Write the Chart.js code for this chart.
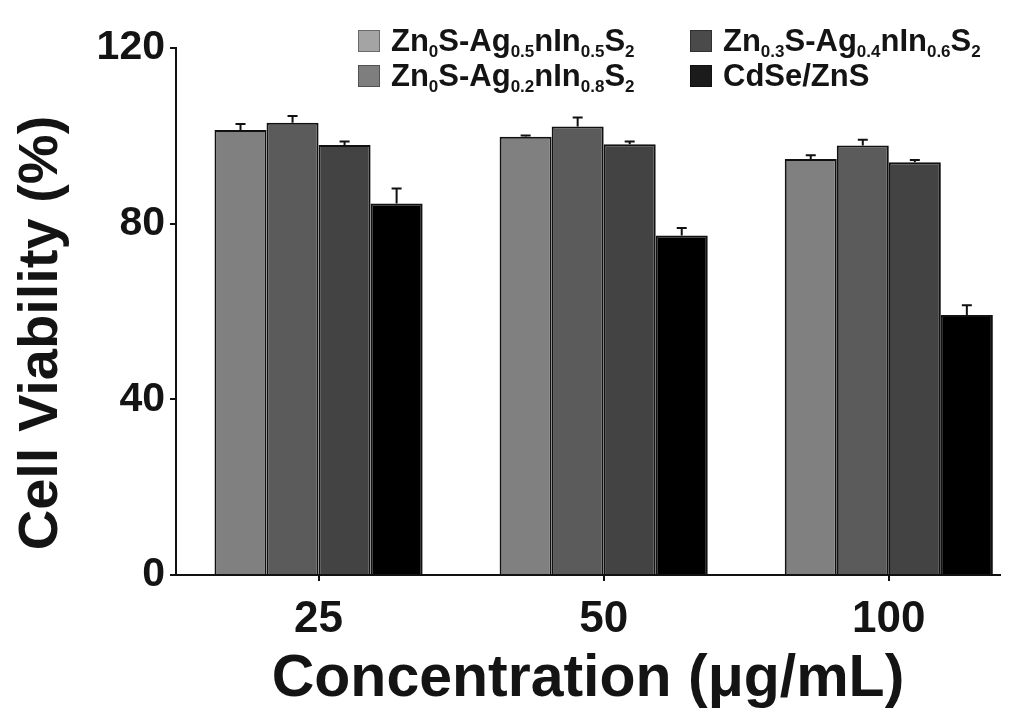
<!DOCTYPE html>
<html>
<head>
<meta charset="utf-8">
<script src="https://cdn.jsdelivr.net/npm/chart.js@4"></script>
<style>
  html, body { margin: 0; padding: 0; background: #fff; }
  #wrap { width: 1025px; height: 710px; }
</style>
</head>
<body>
<div id="wrap"><canvas id="c" width="1025" height="710"></canvas></div>
<script>
// Concentrations tested (µg/mL)
const concentrations = ['25', '50', '100'];

// Sample names; _{...} marks subscript text
const seriesNames = [
  'Zn_{0}S-Ag_{0.5}nIn_{0.5}S_{2}',
  'Zn_{0}S-Ag_{0.2}nIn_{0.8}S_{2}',
  'Zn_{0.3}S-Ag_{0.4}nIn_{0.6}S_{2}',
  'CdSe/ZnS'
];

// Mean cell viability (%) per concentration
const viabilityAg05 = [101.3, 99.8, 94.7];
const viabilityAg02 = [103.0, 102.1, 97.8];
const viabilityZn03 = [97.9, 98.1, 94.0];
const viabilityCdSe = [84.6, 77.3, 59.2];

// Standard deviation (%) per concentration
const errorAg05 = [1.4, 0.3, 0.9];
const errorAg02 = [1.5, 2.1, 1.3];
const errorZn03 = [0.8, 0.6, 0.5];
const errorCdSe = [3.4, 1.7, 2.2];

const yTicks = [0, 40, 80, 120];

const seriesValues = [viabilityAg05, viabilityAg02, viabilityZn03, viabilityCdSe];
const seriesErrors = [errorAg05, errorAg02, errorZn03, errorCdSe];

// Styling
const FONT = "'Liberation Sans', Arial, Helvetica, sans-serif";
const INK = '#141414';
const barFills = ['#808080', '#5b5b5b', '#434343', '#000000'];
const legendFills = ['#a4a4a4', '#7e7e7e', '#4a4a4a', '#1b1b1b'];

Chart.defaults.font.family = FONT;
Chart.defaults.font.weight = 'bold';
Chart.defaults.color = INK;

// Draws text where _{...} segments become subscripts
function drawRichText(ctx, text, x, y, size) {
  const parts = [];
  const re = /_\{([^}]*)\}/g;
  let last = 0, m;
  while ((m = re.exec(text)) !== null) {
    if (m.index > last) parts.push({ t: text.slice(last, m.index), sub: false });
    parts.push({ t: m[1], sub: true });
    last = re.lastIndex;
  }
  if (last < text.length) parts.push({ t: text.slice(last), sub: false });
  let cx = x;
  ctx.textAlign = 'left';
  ctx.textBaseline = 'alphabetic';
  for (const p of parts) {
    if (p.sub) {
      ctx.font = `bold ${Math.round(size * 0.56)}px ${FONT}`;
      ctx.fillText(p.t, cx, y + size * 0.2);
    } else {
      ctx.font = `bold ${size}px ${FONT}`;
      ctx.fillText(p.t, cx, y);
    }
    cx += ctx.measureText(p.t).width;
  }
}

// Upward error bars with caps
const errorBars = {
  id: 'errorBars',
  afterDatasetsDraw(chart) {
    const ctx = chart.ctx;
    const yScale = chart.scales.y;
    ctx.save();
    ctx.strokeStyle = '#111';
    ctx.lineWidth = 2;
    chart.data.datasets.forEach((ds, k) => {
      const meta = chart.getDatasetMeta(k);
      meta.data.forEach((bar, i) => {
        const v = ds.data[i].y;
        const e = ds.errors[i];
        const yTop = yScale.getPixelForValue(v + e);
        ctx.beginPath();
        ctx.moveTo(bar.x, bar.y);
        ctx.lineTo(bar.x, yTop);
        ctx.moveTo(bar.x - 5, yTop);
        ctx.lineTo(bar.x + 5, yTop);
        ctx.stroke();
      });
    });
    ctx.restore();
  }
};

// Two-column legend with subscripted sample names
const richLegend = {
  id: 'richLegend',
  afterDraw(chart, args, opts) {
    const ctx = chart.ctx;
    ctx.save();
    chart.data.datasets.forEach((ds, k) => {
      const col = Math.floor(k / 2), row = k % 2;
      const bx = opts.x[col], by = opts.y[row];
      ctx.fillStyle = legendFills[k];
      ctx.fillRect(bx, by, opts.box, opts.box);
      ctx.strokeStyle = 'rgba(0,0,0,0.35)';
      ctx.lineWidth = 1;
      ctx.strokeRect(bx + 0.5, by + 0.5, opts.box - 1, opts.box - 1);
      ctx.fillStyle = INK;
      drawRichText(ctx, ds.label, bx + opts.box + opts.gap, by + opts.box - 1, opts.size);
    });
    ctx.restore();
  }
};

// Rotated y-axis title
const yTitle = {
  id: 'yTitle',
  afterDraw(chart, args, opts) {
    const ctx = chart.ctx;
    ctx.save();
    ctx.translate(opts.x, opts.y);
    ctx.rotate(-Math.PI / 2);
    ctx.font = `bold ${opts.size}px ${FONT}`;
    ctx.fillStyle = INK;
    ctx.textAlign = 'center';
    ctx.textBaseline = 'middle';
    ctx.fillText(opts.text, 0, 0);
    ctx.restore();
  }
};

const datasets = seriesNames.map((name, k) => ({
  label: name,
  data: seriesValues[k].map((v, i) => ({ x: i, y: v })),
  errors: seriesErrors[k],
  backgroundColor: barFills[k],
  borderColor: '#111',
  borderWidth: 2,
  categoryPercentage: 0.73,
  barPercentage: 1.0
}));

new Chart(document.getElementById('c'), {
  type: 'bar',
  data: { datasets },
  plugins: [errorBars, richLegend, yTitle],
  options: {
    responsive: false,
    animation: false,
    layout: { padding: { top: 48, right: 25, left: 0, bottom: 0 } },
    plugins: {
      legend: { display: false },
      tooltip: { enabled: false },
      richLegend: { x: [358, 690], y: [30, 65], box: 22, gap: 11, size: 31 },
      yTitle: { text: 'Cell Viability (%)', x: 42, y: 333, size: 56 }
    },
    scales: {
      x: {
        type: 'linear',
        min: -0.5,
        max: 2.39,
        offset: false,
        afterBuildTicks: s => { s.ticks = concentrations.map((_, i) => ({ value: i })); },
        afterFit: s => { s.height = 135; },
        ticks: {
          autoSkip: false,
          padding: 12,
          font: { size: 44, weight: 'bold' },
          color: INK,
          callback: v => concentrations[v] ?? ''
        },
        grid: { drawOnChartArea: false, drawTicks: true, tickLength: 6, color: '#111', lineWidth: 2, offset: false },
        border: { display: true, color: '#111', width: 2 },
        title: {
          display: true,
          text: 'Concentration (μg/mL)',
          font: { size: 59, weight: 'bold', lineHeight: 1 },
          color: INK,
          padding: { top: 0, bottom: 1 }
        }
      },
      y: {
        min: 0,
        max: 120,
        afterBuildTicks: s => { s.ticks = yTicks.map(v => ({ value: v })); },
        afterFit: s => { s.width = 176; },
        ticks: {
          padding: 5,
          font: { size: 41, weight: 'bold' },
          color: INK
        },
        grid: { drawOnChartArea: false, drawTicks: true, tickLength: 6, color: '#111', lineWidth: 2 },
        border: { display: true, color: '#111', width: 2 }
      }
    }
  }
});
</script>
</body>
</html>
